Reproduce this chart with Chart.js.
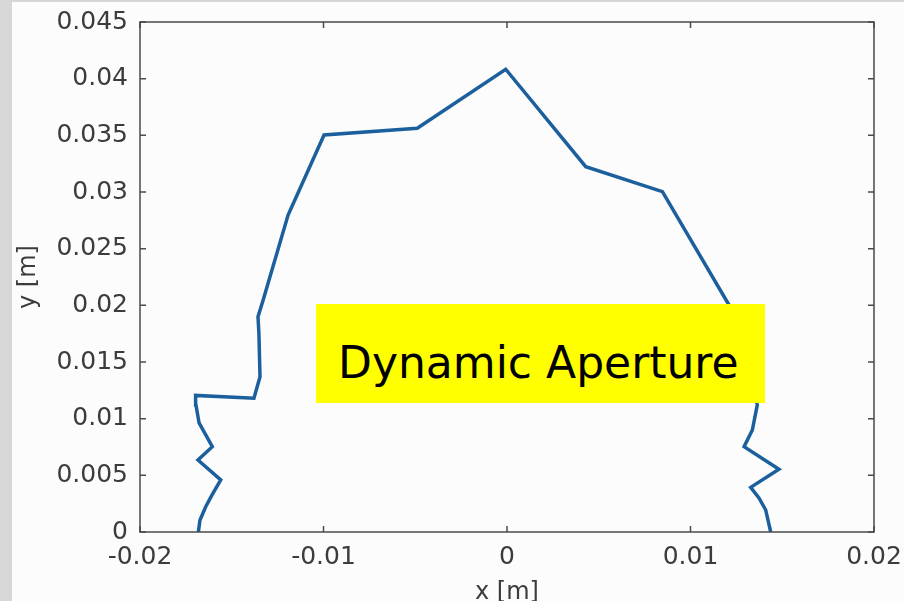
<!DOCTYPE html>
<html>
<head>
    <title>Dynamic Aperture</title>
    <script src="https://cdn.jsdelivr.net/npm/chart.js"></script>
    <style>
        body { margin: 0; background: #d7d7d7; width: 904px; height: 601px; overflow: hidden; }
        #panel { position: absolute; left: 12px; top: 2px; width: 892px; height: 599px; background: #fcfcfc; }
        #daChart { position: absolute; left: 0; top: 0; }
        #label {
            position: absolute; left: 304px; top: 302px; width: 449px; height: 99px;
            background: #ffff00; color: #000;
            font-family: "Comic Sans MS", "DejaVu Sans", sans-serif; font-size: 44px;
            line-height: 1; box-sizing: border-box; padding: 37px 0 0 22px; white-space: nowrap;
        }
    </style>
</head>
<body>
    <div id="panel">
        <canvas id="daChart" width="892" height="599"></canvas>
        <div id="label">Dynamic Aperture</div>
    </div>

    <script>
        // aperture boundary, traced left side -> top -> right side
        const xPos = [-0.01682, -0.01673, -0.01642, -0.01608, -0.01560, -0.01684, -0.01606, -0.01678,
                      -0.01695, -0.01697, -0.01379, -0.01346, -0.01352, -0.01357, -0.01330, -0.01193,
                      -0.00997, -0.00489, -0.00007, 0.00429, 0.00847, 0.01210, 0.01320, 0.01364,
                      0.01337, 0.01292, 0.01482, 0.01328, 0.01373, 0.01410, 0.01437];
        const yPos = [0.00000, 0.00106, 0.00223, 0.00326, 0.00459, 0.00635, 0.00753, 0.00962,
                      0.01120, 0.01205, 0.01180, 0.01370, 0.01750, 0.01900, 0.02040, 0.02797,
                      0.03503, 0.03562, 0.04083, 0.03223, 0.03003, 0.02003, 0.01500, 0.01121,
                      0.00900, 0.00753, 0.00553, 0.00394, 0.00300, 0.00194, 0.00000];

        const xTicks = [-0.02, -0.01, 0, 0.01, 0.02];
        const xTickLabels = ['-0.02', '-0.01', '0', '0.01', '0.02'];
        const yTicks = [0, 0.005, 0.01, 0.015, 0.02, 0.025, 0.03, 0.035, 0.04, 0.045];
        const yTickLabels = ['0', '0.005', '0.01', '0.015', '0.02', '0.025', '0.03', '0.035', '0.04', '0.045'];

        const points = xPos.map((x, i) => ({ x: x, y: yPos[i] }));

        // box around the plot area with inward ticks on all four sides
        const boxAxes = {
            id: 'boxAxes',
            afterDatasetsDraw(chart) {
                const { ctx, chartArea: a, scales } = chart;
                const len = 6;
                ctx.save();
                ctx.strokeStyle = '#4a4a4a';
                ctx.lineWidth = 1.5;
                ctx.strokeRect(a.left, a.top, a.right - a.left, a.bottom - a.top);
                ctx.beginPath();
                xTicks.forEach(v => {
                    const px = scales.x.getPixelForValue(v);
                    ctx.moveTo(px, a.bottom); ctx.lineTo(px, a.bottom - len);
                    ctx.moveTo(px, a.top); ctx.lineTo(px, a.top + len);
                });
                yTicks.forEach(v => {
                    const py = scales.y.getPixelForValue(v);
                    ctx.moveTo(a.left, py); ctx.lineTo(a.left + len, py);
                    ctx.moveTo(a.right, py); ctx.lineTo(a.right - len, py);
                });
                ctx.stroke();
                ctx.restore();
            }
        };

        const tickFont = { family: 'DejaVu Sans', size: 25 };

        new Chart(document.getElementById('daChart'), {
            type: 'scatter',
            data: {
                datasets: [{
                    data: points,
                    showLine: true,
                    borderColor: '#1b5f9d',
                    borderWidth: 3.5,
                    pointRadius: 0,
                    tension: 0,
                    fill: false
                }]
            },
            options: {
                responsive: false,
                animation: false,
                events: [],
                layout: { padding: { top: 20, right: 30, left: 0, bottom: 0 } },
                plugins: { legend: { display: false }, tooltip: { enabled: false } },
                scales: {
                    x: {
                        type: 'linear',
                        min: -0.02, max: 0.02,
                        afterFit: s => { s.height = 69; s.paddingLeft = 0; s.paddingRight = 0; },
                        afterBuildTicks: s => { s.ticks = xTicks.map(v => ({ value: v })); },
                        grid: { display: false, drawTicks: false },
                        border: { display: false },
                        ticks: {
                            autoSkip: false, maxRotation: 0, padding: 10,
                            color: '#3c3c3c', font: tickFont,
                            callback: (v, i) => xTickLabels[i]
                        },
                        title: {
                            display: true, text: 'x [m]', color: '#3c3c3c',
                            font: { family: 'DejaVu Sans', size: 24, lineHeight: 1 },
                            padding: { top: 0, bottom: -4 }
                        }
                    },
                    y: {
                        type: 'linear',
                        min: 0, max: 0.045,
                        afterFit: s => { s.width = 128; s.paddingTop = 0; s.paddingBottom = 0; },
                        afterBuildTicks: s => { s.ticks = yTicks.map(v => ({ value: v })); },
                        grid: { display: false, drawTicks: false },
                        border: { display: false },
                        ticks: {
                            autoSkip: false, padding: 12,
                            color: '#3c3c3c', font: tickFont,
                            callback: (v, i) => yTickLabels[i]
                        },
                        title: {
                            display: true, text: 'y [m]', color: '#3c3c3c',
                            font: { family: 'DejaVu Sans', size: 24, lineHeight: 1 },
                            padding: { top: 5, bottom: 0 }
                        }
                    }
                }
            },
            plugins: [boxAxes]
        });
    </script>
</body>
</html>
